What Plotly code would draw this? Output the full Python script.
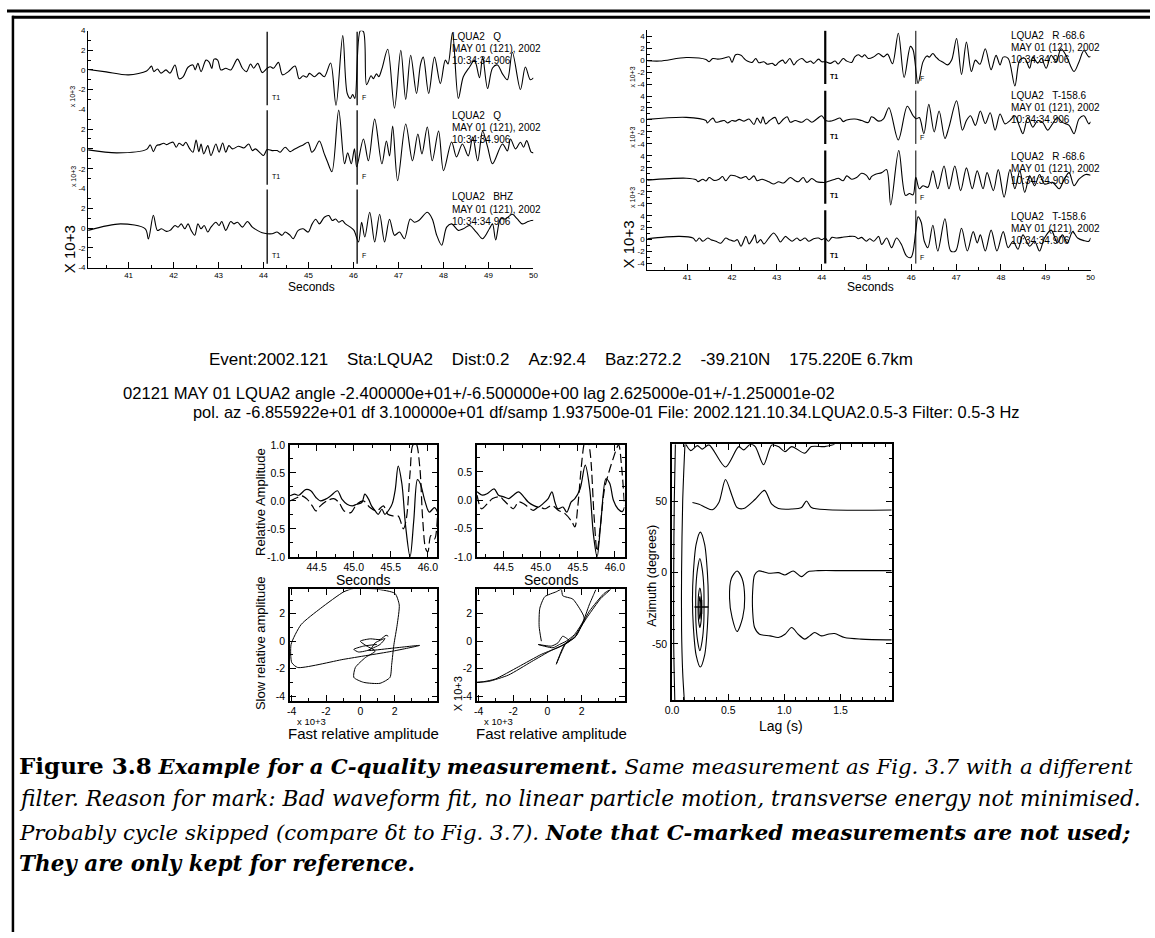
import plotly.graph_objects as go

W, H = 1155, 938
SANS = "Liberation Sans, Arial, sans-serif"
SERIF = "DejaVu Serif, Liberation Serif, serif"

# ---------------- data ----------------
# Top-left seismograms: (time s, amplitude x10^3)
Q1 = [(40.10,0.05),(40.50,-0.2),(41.00,-0.5),(41.40,-0.1),(41.48,0.27),(41.51,0.4),(41.56,-0.17),(41.64,0.1),(41.72,-0.33),(41.83,0.0),(41.92,-0.33),(42.03,0.5),(42.12,-0.9),(42.21,-0.7),(42.32,0.27),(42.43,0.5),(42.48,0.0),(42.54,0.67),(42.61,-0.17),(42.72,1.0),(42.79,0.8),(42.85,0.15),(42.90,1.1),(42.98,1.0),(43.05,0.0),(43.16,0.17),(43.27,0.0),(43.42,1.1),(43.53,0.17),(43.62,-0.17),(43.71,0.6),(43.78,0.17),(43.87,0.67),(43.97,-0.27),(44.08,0.17),(44.15,0.33),(44.22,0.17),(44.33,0.77),(44.42,-0.5),(44.55,-0.17),(44.70,0.4),(44.79,-0.9),(44.88,-0.6),(44.96,-0.73),(45.02,-0.35),(45.13,-0.7),(45.24,-0.3),(45.35,-0.7),(45.49,0.7),(45.61,-3.6),(45.76,3.5),(45.86,-2.4),(45.93,-2.9),(45.98,-2.5),(46.03,-2.9),(46.15,4.0),(46.22,3.9),(46.29,-1.5),(46.39,-0.6),(46.44,-0.9),(46.51,-0.4),(46.56,-0.7),(46.63,0.1),(46.76,2.1),(46.91,-3.9),(47.05,2.0),(47.16,-3.0),(47.27,1.5),(47.40,-2.4),(47.49,0.6),(47.55,1.3),(47.67,-2.4),(47.80,1.3),(47.93,-1.4),(48.04,1.0),(48.10,0.6),(48.20,3.8),(48.33,-2.9),(48.44,-0.7),(48.58,0.3),(48.69,1.0),(48.80,-0.8),(48.87,1.3),(48.98,-1.9),(49.09,0.2),(49.20,0.5),(49.31,-0.4),(49.42,-1.0),(49.53,1.8),(49.71,-2.0),(49.82,0.3),(49.93,-1.0),(50.00,-0.8)]
Q2 = [(40.10,-0.1),(40.74,-0.4),(41.40,-0.05),(41.48,0.4),(41.55,-0.27),(41.62,0.33),(41.70,0.43),(41.78,0.57),(41.84,0.43),(41.92,0.6),(41.99,0.67),(42.06,0.17),(42.12,0.57),(42.21,0.33),(42.27,0.67),(42.36,0.0),(42.43,-0.33),(42.50,0.9),(42.56,-0.27),(42.61,0.5),(42.67,-0.5),(42.76,0.33),(42.83,-0.67),(42.94,0.5),(43.01,-0.33),(43.09,0.6),(43.16,-0.33),(43.23,0.33),(43.31,0.0),(43.44,0.27),(43.56,0.1),(43.67,0.5),(43.75,-0.17),(43.82,0.0),(43.93,-0.43),(44.00,-0.67),(44.08,-0.07),(44.19,-0.17),(44.30,-0.17),(44.37,-0.33),(44.48,0.17),(44.59,-0.27),(44.66,-0.1),(44.77,0.17),(44.88,0.4),(44.99,0.67),(45.07,-0.33),(45.13,-0.1),(45.24,0.8),(45.35,-0.5),(45.42,-1.3),(45.52,-2.3),(45.67,3.9),(45.80,-1.5),(45.87,-0.4),(45.95,-1.5),(46.02,0.0),(46.07,-1.8),(46.22,1.0),(46.33,-1.2),(46.47,3.0),(46.63,-1.5),(46.73,0.8),(46.80,-0.7),(46.87,2.3),(46.98,-3.2),(47.16,2.5),(47.31,-1.2),(47.43,1.5),(47.52,-0.5),(47.64,2.2),(47.75,-1.2),(47.89,1.8),(48.00,-2.2),(48.18,0.7),(48.29,-0.8),(48.42,0.5),(48.55,-0.7),(48.65,1.2),(48.76,-1.2),(48.87,1.8),(48.98,0.2),(49.09,-1.5),(49.31,0.5),(49.42,-0.2),(49.49,1.0),(49.60,0.0),(49.71,0.67),(49.78,0.17),(49.85,0.83),(49.95,-0.33),(50.00,-0.4)]
BHZ = [(40.10,-0.23),(40.82,0.43),(41.37,-0.07),(41.44,-1.1),(41.55,1.3),(41.64,-0.23),(41.73,-0.07),(41.84,-0.33),(41.92,-0.23),(42.03,0.27),(42.10,0.1),(42.17,0.43),(42.25,-0.07),(42.32,0.43),(42.39,-0.23),(42.47,-0.73),(42.54,0.43),(42.61,-0.07),(42.68,0.27),(42.76,-0.4),(42.83,0.1),(42.94,0.6),(43.01,0.27),(43.07,0.67),(43.16,-0.23),(43.27,0.67),(43.34,0.43),(43.42,0.6),(43.53,0.1),(43.64,0.67),(43.75,0.1),(43.86,-0.23),(43.97,-0.47),(44.08,-0.57),(44.19,-0.57),(44.30,-0.4),(44.41,-0.73),(44.48,-0.4),(44.59,-0.73),(44.66,-1.07),(44.77,-0.23),(44.88,-0.07),(44.99,-0.4),(45.08,0.43),(45.16,0.9),(45.24,0.43),(45.35,1.1),(45.45,1.27),(45.53,0.77),(45.60,0.93),(45.67,0.6),(45.75,0.77),(45.82,0.43),(45.93,0.1),(46.01,-0.23),(46.11,-1.4),(46.18,0.6),(46.25,-0.9),(46.36,1.6),(46.47,-1.4),(46.58,1.4),(46.69,-1.4),(46.80,0.9),(46.91,-0.73),(47.02,-0.4),(47.13,-1.07),(47.26,0.93),(47.35,0.6),(47.45,0.77),(47.64,1.6),(47.75,0.93),(47.85,-0.73),(47.96,-1.73),(48.07,0.1),(48.18,0.43),(48.33,-0.23),(48.44,-0.07),(48.58,0.27),(48.73,-0.4),(48.87,-1.07),(49.02,-0.07),(49.09,0.43),(49.16,-1.2),(49.27,0.93),(49.38,0.93),(49.53,1.4),(49.64,0.93),(49.75,0.43),(49.85,0.6),(49.95,0.77),(50.00,0.8)]

# Top-right seismograms (rotated components)
R1 = [(40.11,-0.1),(40.39,-0.15),(40.98,0.43),(41.42,0.1),(41.49,-0.27),(41.57,0.27),(41.68,0.16),(41.79,0.27),(41.86,0.43),(41.94,0.54),(42.00,-0.38),(42.08,0.9),(42.20,0.8),(42.27,0.27),(42.34,-0.16),(42.45,-0.38),(42.53,0.27),(42.60,-0.43),(42.71,-0.27),(42.79,-0.7),(42.90,-0.54),(42.97,-0.9),(43.04,-0.38),(43.13,0.0),(43.19,-0.54),(43.29,0.27),(43.38,-0.8),(43.45,-0.16),(43.56,0.27),(43.67,-0.38),(43.75,-0.16),(43.82,-0.54),(43.93,0.16),(44.00,-0.27),(44.09,-0.27),(44.19,-0.54),(44.30,-0.16),(44.37,-0.65),(44.48,0.27),(44.56,-0.16),(44.67,-0.38),(44.74,0.54),(44.82,0.9),(44.90,0.54),(44.96,0.9),(45.04,0.27),(45.16,0.54),(45.27,1.1),(45.38,0.54),(45.47,1.0),(45.58,-0.6),(45.71,4.5),(45.84,-2.9),(45.98,2.3),(46.04,1.7),(46.15,-3.9),(46.26,-0.3),(46.35,0.7),(46.40,0.5),(46.48,1.1),(46.55,0.5),(46.62,0.0),(46.70,-0.3),(46.81,-0.8),(46.90,0.0),(47.01,3.6),(47.12,-2.4),(47.23,3.0),(47.34,-1.9),(47.43,0.0),(47.53,-0.7),(47.65,1.9),(47.78,-1.6),(47.89,0.8),(47.98,-0.8),(48.05,0.5),(48.16,0.3),(48.31,-4.3),(48.42,0.0),(48.53,0.3),(48.64,-1.35),(48.71,0.5),(48.82,-0.5),(48.90,0.3),(49.01,-1.35),(49.12,0.8),(49.23,-0.3),(49.34,1.9),(49.45,0.8),(49.63,-1.9),(49.74,-0.3),(49.85,1.6),(49.96,0.54),(50.00,0.6)]
T1c = [(40.11,0.1),(40.98,0.43),(41.42,-0.1),(41.45,-0.5),(41.53,0.1),(41.58,0.3),(41.64,-0.38),(41.75,-0.2),(41.83,-0.1),(41.90,-0.5),(42.00,-0.1),(42.08,-0.2),(42.16,0.1),(42.27,-0.2),(42.38,0.16),(42.49,-0.75),(42.56,0.3),(42.64,-0.54),(42.69,0.54),(42.75,-0.65),(42.84,-0.1),(42.96,0.43),(43.04,-0.65),(43.15,0.16),(43.23,0.54),(43.30,-0.38),(43.41,-0.1),(43.56,-0.38),(43.67,0.16),(43.78,-0.38),(43.89,0.16),(44.00,0.7),(44.09,-0.1),(44.19,-0.2),(44.30,0.05),(44.41,0.32),(44.48,-0.27),(44.56,0.0),(44.74,0.16),(44.89,-0.1),(45.04,-0.43),(45.11,0.54),(45.16,0.4),(45.27,-0.2),(45.38,0.2),(45.50,2.05),(45.71,-3.35),(45.91,2.3),(46.04,0.7),(46.11,0.2),(46.18,0.4),(46.28,-2.3),(46.39,2.6),(46.51,-2.0),(46.62,1.5),(46.75,-3.1),(46.84,-1.2),(47.01,3.2),(47.14,-1.7),(47.23,-0.1),(47.32,0.7),(47.43,-0.9),(47.54,1.5),(47.65,-0.6),(47.76,1.2),(47.87,-1.7),(47.98,1.0),(48.09,-0.65),(48.20,-0.1),(48.31,0.7),(48.42,-1.2),(48.49,-2.3),(48.60,0.4),(48.71,-1.2),(48.82,-0.1),(48.93,-0.4),(49.04,-1.7),(49.15,-0.65),(49.26,0.4),(49.37,-0.4),(49.52,-0.9),(49.63,-2.3),(49.74,0.16),(49.85,0.7),(49.96,-0.65),(50.00,-0.3)]
R2 = [(40.11,-0.05),(40.98,0.27),(41.20,0.0),(41.24,-0.3),(41.35,0.1),(41.42,-0.2),(41.49,0.38),(41.60,-0.1),(41.71,0.1),(41.79,0.54),(41.86,-0.16),(41.97,0.75),(42.08,0.65),(42.20,0.27),(42.31,0.54),(42.38,0.0),(42.49,0.65),(42.56,-0.16),(42.67,0.1),(42.82,-0.33),(42.93,-0.7),(43.04,-0.33),(43.15,-0.54),(43.30,0.38),(43.41,-0.16),(43.48,-0.33),(43.59,0.38),(43.67,-0.43),(43.78,0.22),(43.89,-0.33),(44.00,-0.43),(44.08,-0.43),(44.19,-0.16),(44.30,0.1),(44.37,0.27),(44.48,-0.16),(44.56,0.65),(44.67,0.1),(44.78,0.38),(44.89,1.1),(45.00,0.75),(45.07,0.0),(45.11,0.54),(45.19,0.9),(45.34,1.2),(45.45,1.7),(45.54,-4.2),(45.72,4.9),(45.87,-2.6),(45.96,-2.3),(46.04,-2.5),(46.10,0.4),(46.18,-1.5),(46.26,-1.0),(46.37,-1.25),(46.48,1.5),(46.59,-1.5),(46.73,2.3),(46.84,-1.5),(46.97,2.3),(47.10,-1.8),(47.23,2.0),(47.36,-1.5),(47.47,1.5),(47.60,-1.5),(47.69,1.2),(47.83,-1.8),(47.94,1.7),(48.07,-2.9),(48.20,1.7),(48.31,-1.5),(48.42,1.5),(48.53,-2.1),(48.64,0.65),(48.75,-1.0),(48.86,0.9),(48.97,-0.7),(49.15,-0.43),(49.30,-1.5),(49.41,0.1),(49.52,1.2),(49.63,-1.0),(49.74,0.1),(49.89,0.9),(50.00,0.75)]
T2c = [(40.11,0.16),(40.83,0.55),(41.13,0.27),(41.20,-0.27),(41.27,0.27),(41.35,-0.27),(41.46,0.27),(41.53,0.0),(41.64,-0.27),(41.75,-0.6),(41.86,0.27),(41.94,0.0),(42.05,-0.27),(42.12,0.0),(42.20,-1.1),(42.31,0.54),(42.38,-0.7),(42.45,0.0),(42.51,0.8),(42.56,-0.54),(42.64,0.0),(42.71,-0.7),(42.82,0.27),(42.93,1.1),(43.00,0.54),(43.08,-0.38),(43.19,0.54),(43.26,0.16),(43.34,-0.27),(43.45,0.27),(43.52,-0.16),(43.63,0.27),(43.71,-0.27),(43.82,0.16),(43.93,0.27),(44.00,0.0),(44.08,0.27),(44.15,-0.27),(44.23,0.38),(44.34,0.27),(44.45,0.38),(44.60,0.54),(44.74,0.54),(44.82,0.16),(44.89,0.38),(45.00,-0.27),(45.07,0.16),(45.16,-0.27),(45.27,0.54),(45.34,-0.8),(45.45,0.27),(45.56,-1.35),(45.67,0.27),(45.78,-0.8),(45.89,-2.7),(45.99,-3.0),(46.04,-2.0),(46.10,1.5),(46.15,3.8),(46.22,2.9),(46.29,-0.27),(46.37,-1.35),(46.48,2.4),(46.59,-1.9),(46.75,3.5),(46.88,-1.9),(46.99,-1.9),(47.12,1.9),(47.25,-1.9),(47.38,1.35),(47.47,-0.54),(47.54,0.8),(47.65,-1.9),(47.78,1.6),(47.91,-1.9),(48.05,1.35),(48.16,-1.35),(48.27,-0.27),(48.38,-1.6),(48.49,0.8),(48.64,-1.1),(48.75,-0.27),(48.86,-1.9),(48.97,0.27),(49.12,1.6),(49.26,-0.54),(49.37,0.8),(49.48,-0.54),(49.60,1.35),(49.71,0.27),(49.85,-0.16),(49.96,-0.27),(50.00,0.3)]

T1_PICK = 44.08
F_PICK = 46.08
F_PICK_R = 46.10

LEFT_STATIONS = ["LQUA2\u00a0\u00a0\u00a0Q", "LQUA2\u00a0\u00a0\u00a0Q", "LQUA2\u00a0\u00a0\u00a0BHZ"]
RIGHT_STATIONS = ["LQUA2\u00a0\u00a0\u00a0R -68.6", "LQUA2\u00a0\u00a0\u00a0T-158.6",
                  "LQUA2\u00a0\u00a0\u00a0R -68.6", "LQUA2\u00a0\u00a0\u00a0T-158.6"]
DATE_TXT = "MAY 01 (121), 2002"
TIME_TXT = "10:34:34.906"

# Waveform fit panels (time s, relative amplitude)
FIT_A_SOLID = [(44.14,0.09),(44.20,0.12),(44.26,0.10),(44.35,0.20),(44.42,0.18),(44.49,0.06),(44.55,0.0),(44.62,0.03),(44.69,0.09),(44.78,0.18),(44.84,0.03),(44.91,-0.06),(44.98,-0.09),(45.04,-0.06),(45.11,-0.03),(45.15,0.12),(45.20,0.03),(45.24,-0.09),(45.29,-0.18),(45.33,-0.24),(45.38,-0.15),(45.42,-0.24),(45.48,-0.15),(45.52,-0.05),(45.56,0.2),(45.60,0.62),(45.65,0.3),(45.70,-0.45),(45.76,-1.0),(45.81,-0.35),(45.86,0.38),(45.90,0.3),(45.96,0.0),(46.02,-0.2),(46.09,-0.12),(46.13,-0.2)]
FIT_A_DASH = [(44.14,0.0),(44.24,0.06),(44.30,0.09),(44.37,0.03),(44.44,-0.09),(44.49,-0.18),(44.55,-0.09),(44.64,0.0),(44.73,0.04),(44.80,-0.03),(44.87,-0.18),(44.96,-0.21),(45.04,-0.06),(45.13,0.0),(45.22,-0.12),(45.31,-0.18),(45.40,-0.09),(45.46,-0.24),(45.53,-0.27),(45.60,-0.27),(45.67,-0.5),(45.71,-0.32),(45.76,0.5),(45.80,1.0),(45.84,1.02),(45.89,0.62),(45.93,-0.32),(45.97,-0.85),(46.00,-0.91),(46.04,-0.62),(46.09,-0.68),(46.13,-0.27)]
FIT_B_SOLID = [(44.14,0.15),(44.21,0.09),(44.28,0.12),(44.37,0.2),(44.43,0.09),(44.50,0.06),(44.57,0.03),(44.63,0.09),(44.70,0.15),(44.77,0.06),(44.83,-0.03),(44.90,-0.09),(44.97,-0.12),(45.03,-0.06),(45.10,0.03),(45.15,0.15),(45.19,-0.03),(45.23,-0.15),(45.30,-0.12),(45.35,-0.21),(45.41,-0.03),(45.46,0.03),(45.53,0.2),(45.60,0.62),(45.66,0.2),(45.71,-0.6),(45.76,-1.0),(45.81,-0.4),(45.88,0.38),(45.93,0.3),(45.98,0.0),(46.04,-0.15),(46.10,-0.2),(46.13,-0.12)]
FIT_B_DASH = [(44.14,0.09),(44.20,-0.15),(44.28,-0.06),(44.35,0.03),(44.45,0.06),(44.50,0.0),(44.57,-0.09),(44.63,-0.15),(44.70,-0.03),(44.77,-0.06),(44.83,-0.12),(44.90,-0.18),(44.97,-0.12),(45.06,-0.15),(45.15,-0.09),(45.24,-0.18),(45.33,-0.24),(45.42,-0.38),(45.46,-0.47),(45.50,-0.1),(45.54,0.5),(45.58,0.97),(45.62,1.2),(45.67,0.8),(45.72,-0.3),(45.76,-0.9),(45.80,-0.5),(45.86,0.2),(45.92,0.5),(45.98,0.75),(46.05,0.98),(46.09,0.6),(46.13,-0.1)]

# Particle motion (fast, slow) x10^3
PM_BEFORE = [(0.96,-0.24),(0.19,-0.36),(-0.38,-0.60),(-0.10,-0.79),(0.58,-0.60),(0.87,-0.12),(1.44,0.19),(1.15,-0.24),(0.48,-0.67),(1.73,-0.53),(3.46,-0.31),(1.92,-0.72),(-0.96,-1.32),(-3.65,-1.92),(-4.0,-1.56),(-4.04,-0.24),(-3.46,1.20),(-2.31,2.40),(-0.96,3.60),(-0.38,3.84),(0.96,3.79),(2.02,3.48),(2.27,2.64),(2.15,1.20),(1.96,-0.24),(1.83,-1.68),(1.73,-2.64),(1.15,-3.07),(0.19,-3.0),(-0.38,-2.64),(-0.29,-1.92),(0.29,-1.20),(0.87,-0.72),(0.38,-0.36),(0.0,0.0),(0.58,0.17),(1.15,0.12),(1.50,0.43),(1.63,0.36)]
PM_AFTER = [(-0.35,0.0),(-0.48,1.08),(-0.44,2.40),(-0.15,3.24),(0.52,3.60),(0.81,3.77),(0.90,3.31),(1.48,3.07),(1.87,2.40),(2.15,1.68),(1.58,0.48),(1.10,0.0),(0.71,-0.24),(0.33,-0.48),(-0.54,-0.24),(0.23,-0.36),(0.62,-0.12),(0.90,0.36),(1.29,0.0),(1.0,-0.24),(0.52,-1.68),(1.10,-0.12),(1.58,0.24),(2.44,2.16),(3.31,3.48),(3.69,3.77),(3.12,3.12),(2.35,1.80),(1.58,0.36),(0.81,-0.36),(-0.35,-0.96),(-1.69,-1.87),(-3.04,-2.76),(-3.71,-2.95),(-4.1,-3.0),(-3.42,-2.93),(-2.27,-2.47),(-0.92,-1.49),(0.23,-0.67),(1.10,-0.17),(1.67,0.36),(2.06,1.32),(2.44,2.64),(2.73,3.48),(2.83,3.77)]

# Energy-grid contours (lag s, azimuth deg)
CONTOURS = [
    [(0.123,90),(0.167,85.6),(0.226,89.1),(0.270,86.6),(0.329,89.6),(0.476,74.1),(0.594,88.4),(0.638,86.1),(0.697,90),(0.741,88.4),(0.815,75.7),(0.888,89.6),(0.947,88.4),(1.006,84.9),(1.065,88.4),(1.182,83.8),(1.241,88.4),(1.359,88.4),(1.447,90)],
    [(0.182,49.2),(0.241,48.0),(0.300,45.7),(0.359,44.1),(0.417,49.2),(0.476,65.3),(0.535,53.8),(0.579,45.7),(0.638,45.0),(0.741,51.5),(0.823,57.7),(0.888,48.0),(0.947,45.0),(1.065,44.6),(1.153,45.7),(1.197,50.3),(1.241,45.7),(1.389,44.1),(1.956,43.9)],
    [(1.956,1.4),(1.536,1.4),(1.300,1.4),(1.212,0.7),(1.153,-2.8),(1.079,1.2),(1.006,-1.6),(0.947,0.0),(0.859,-0.4),(0.770,1.2),(0.735,-1.6),(0.718,-13.1),(0.718,-27.0),(0.735,-38.5),(0.779,-43.2),(0.873,-44.3),(0.947,-45.5),(1.006,-43.2),(1.065,-38.5),(1.123,-43.2),(1.182,-46.6),(1.226,-44.3),(1.271,-42.0),(1.330,-44.3),(1.389,-43.2),(1.447,-42.7),(1.536,-45.5),(1.683,-46.6),(1.956,-47.1)],
    [(0.579,1.2),(0.623,-3.9),(0.647,-17.8),(0.629,-31.6),(0.579,-41.3),(0.535,-31.6),(0.512,-17.8),(0.529,-3.9),(0.579,1.2)],
    [(0.252,28.4),(0.29,20),(0.315,0),(0.323,-19),(0.315,-38),(0.29,-58),(0.252,-66.2),(0.215,-58),(0.19,-38),(0.182,-19),(0.19,0),(0.215,20),(0.252,28.4)],
    [(0.248,9.9),(0.268,3),(0.283,-10),(0.285,-22),(0.283,-35),(0.268,-48),(0.248,-54.7),(0.228,-48),(0.213,-35),(0.211,-22),(0.213,-10),(0.228,3),(0.248,9.9)],
    [(0.248,-10.8),(0.259,-15),(0.264,-24.7),(0.259,-34),(0.248,-38.5),(0.237,-34),(0.232,-24.7),(0.237,-15),(0.248,-10.8)],
    [(0.248,-16.7),(0.254,-20),(0.256,-24.7),(0.254,-29),(0.248,-32.7),(0.242,-29),(0.240,-24.7),(0.242,-20),(0.248,-16.7)],
    [(0.115,90),(0.095,50),(0.085,0),(0.085,-40),(0.095,-70),(0.11,-90)],
    [(0.03,90),(0.02,50),(0.015,0),(0.015,-50),(0.025,-90)],
]
BEST = (0.2625, -24.0)

EVENT_TXT = ("Event:2002.121\u00a0\u00a0\u00a0\u00a0Sta:LQUA2\u00a0\u00a0\u00a0\u00a0Dist:0.2\u00a0\u00a0\u00a0\u00a0Az:92.4"
             "\u00a0\u00a0\u00a0\u00a0Baz:272.2\u00a0\u00a0\u00a0\u00a0-39.210N\u00a0\u00a0\u00a0\u00a0175.220E 6.7km")
INFO1 = "02121 MAY 01 LQUA2 angle -2.400000e+01+/-6.500000e+00 lag 2.625000e-01+/-1.250001e-02"
INFO2 = "pol. az -6.855922e+01 df 3.100000e+01 df/samp 1.937500e-01 File: 2002.121.10.34.LQUA2.0.5-3 Filter: 0.5-3 Hz"
CAPTION = [
    "<b><span style='font-size:23px'>Figure 3.8</span></b> <b><i>Example for a C-quality measurement.</i></b> <i>Same measurement as Fig. 3.7 with a different</i>",
    "<i>filter. Reason for mark: Bad waveform fit, no linear particle motion, transverse energy not minimised.</i>",
    "<i>Probably cycle skipped (compare \u03b4t to Fig. 3.7).</i> <b><i>Note that C-marked measurements are not used;</i></b>",
    "<b><i>They are only kept for reference.</i></b>",
]
CAP_SIZES = [21.3, 21.7, 21.3, 21.5]
CAP_Y = [769, 803, 837, 869]

# ---------------- figure ----------------
fig = go.Figure()


def dx(a, b):
    return [a / W, b / W]


def dy(top, bottom):
    return [1 - bottom / H, 1 - top / H]


def unzip(pairs):
    return [p[0] for p in pairs], [p[1] for p in pairs]


def line_trace(pairs, ax, width=1.0, dash=None, shape="spline", smoothing=0.9):
    x, y = unzip(pairs)
    fig.add_trace(go.Scatter(x=x, y=y, mode="lines", xaxis="x" + ax, yaxis="y" + ax,
                             line=dict(color="black", width=width, dash=dash, shape=shape, smoothing=smoothing),
                             hoverinfo="skip", showlegend=False))


def ann(text, x, y, size, family=SANS, xanchor="left", yanchor="middle", angle=0):
    fig.add_annotation(text=text, x=x / W, y=1 - y / H, xref="paper", yref="paper", showarrow=False,
                       font=dict(size=size, family=family, color="black"), xanchor=xanchor,
                       yanchor=yanchor, textangle=angle, borderpad=0)


layout = {}
tick_small = dict(size=8, family=SANS, color="black")
tick_mid = dict(size=10.5, family=SANS, color="black")


def frange(a, b, s):
    out, v = [], a
    while v <= b + 1e-9:
        out.append(round(v, 4))
        v += s
    return out


# top-left: 3 rows
LX = dx(82, 532)
L_ROWS = [(25, 104.5), (104.5, 185), (185, 265)]
for i, (top, bot) in enumerate(L_ROWS):
    n = str(i + 1)
    last = i == len(L_ROWS) - 1
    top_lbl = "4" if i == 0 else ""
    layout["xaxis" + n] = dict(domain=LX, range=[40.1, 50.0], anchor="y" + n, visible=last,
                               showgrid=False, zeroline=False, showline=True, linecolor="black", linewidth=1,
                               ticks="inside", ticklen=6, tickcolor="black", tickvals=list(range(41, 51)),
                               tickfont=tick_small, ticklabelstandoff=0,
                               minor=dict(tickvals=frange(40.5, 49.5, 1.0), ticks="inside", ticklen=3, tickcolor="black"))
    layout["yaxis" + n] = dict(domain=dy(top, bot), range=[-4, 4], anchor="x" + n, showgrid=False, zeroline=False,
                               showline=True, linecolor="black", linewidth=1, ticks="inside", ticklen=5,
                               tickcolor="black", tickvals=[-4, -2, 0, 2, 4], ticktext=["-4", "-2", "0", "2", top_lbl],
                               tickfont=tick_small,
                               minor=dict(tickvals=[-3, -1, 1, 3], ticks="inside", ticklen=3, tickcolor="black"))

# top-right: 4 rows
RX = dx(647, 1095)
rtop, rbot = 24.5, 267.0
rh = (rbot - rtop) / 4
for i in range(4):
    n = str(i + 4)
    last = i == 3
    top = rtop + i * rh
    layout["xaxis" + n] = dict(domain=RX, range=[40.11, 50.0], anchor="y" + n, visible=last,
                               showgrid=False, zeroline=False, showline=True, linecolor="black", linewidth=1,
                               ticks="inside", ticklen=6, tickcolor="black", tickvals=list(range(41, 51)),
                               tickfont=tick_small, ticklabelstandoff=0,
                               minor=dict(tickvals=frange(40.5, 49.5, 1.0), ticks="inside", ticklen=3, tickcolor="black"))
    layout["yaxis" + n] = dict(domain=dy(top, top + rh), range=[-5, 5], anchor="x" + n, showgrid=False,
                               zeroline=False, showline=True, linecolor="black", linewidth=1, ticks="inside",
                               ticklen=5, tickcolor="black", tickvals=[-4, -2, 0, 2, 4],
                               ticktext=["-4", "-2", "0", "2", "4"], tickfont=tick_small,
                               minor=dict(tickvals=[-5, -3, -1, 1, 3, 5], ticks="inside", ticklen=3, tickcolor="black"))


def box_axes(n, xd, yd, xr, yr, xt, xtt, yt, ytt, xminor, yminor):
    layout["xaxis" + n] = dict(domain=xd, range=xr, anchor="y" + n, showgrid=False, zeroline=False, showline=True,
                               mirror="allticks", linecolor="black", linewidth=1.6, ticks="inside", ticklen=6,
                               tickcolor="black", tickvals=xt, ticktext=xtt, tickfont=tick_mid, ticklabelstandoff=0,
                               minor=dict(tickvals=xminor, ticks="inside", ticklen=3, tickcolor="black"))
    layout["yaxis" + n] = dict(domain=yd, range=yr, anchor="x" + n, showgrid=False, zeroline=False, showline=True,
                               mirror="allticks", linecolor="black", linewidth=1.6, ticks="inside", ticklen=6,
                               tickcolor="black", tickvals=yt, ticktext=ytt, tickfont=tick_mid, ticklabelstandoff=1,
                               minor=dict(tickvals=yminor, ticks="inside", ticklen=3, tickcolor="black"))


sec_t = [44.5, 45.0, 45.5, 46.0]
sec_tt = ["44.5", "45.0", "45.5", "46.0"]
sec_minor = frange(44.25, 46.0, 0.25)
amp_minor = frange(-0.75, 0.75, 0.25)
box_axes("8", dx(286, 435), dy(444.5, 558), [44.14, 46.13], [-1.0, 1.0], sec_t, sec_tt,
         [-1.0, -0.5, 0.0, 0.5, 1.0], ["-1.0", "-0.5", "0.0", "0.5", "1.0"], sec_minor, amp_minor)
box_axes("9", dx(475, 624), dy(444.5, 558), [44.14, 46.13], [-1.0, 0.98], sec_t, sec_tt,
         [-1.0, -0.5, 0.0, 0.5], ["-1.0", "-0.5", "0.0", "0.5"], sec_minor, amp_minor)
pm_xt, pm_xtt = [-4, -2, 0, 2], ["-4", "-2", "0", "2"]
pm_yt, pm_ytt = [-4, -2, 0, 2], ["-4", "-2", "0", "2"]
box_axes("10", dx(286, 435), dy(591, 704), [-4.1, 4.5], [-4.36, 3.77], pm_xt, pm_xtt, pm_yt, pm_ytt,
         [-3, -1, 1, 3, 4], [-3, -1, 1, 3])
box_axes("11", dx(475, 624), dy(591, 704), [-4.1, 4.5], [-4.36, 3.77], pm_xt, pm_xtt, pm_yt, pm_ytt,
         [-3, -1, 1, 3, 4], [-3, -1, 1, 3])
box_axes("12", dx(672, 894), dy(444, 703), [0.0, 1.956], [-89.3, 90], [0.0, 0.5, 1.0, 1.5],
         ["0.0", "0.5", "1.0", "1.5"], [-50, 0, 50], ["-50", "0", "50"],
         frange(0.1, 1.9, 0.1), frange(-80, 80, 10))

# traces
for pairs, ax in [(Q1, "1"), (Q2, "2"), (BHZ, "3"), (R1, "4"), (T1c, "5"), (R2, "6"), (T2c, "7")]:
    line_trace(pairs, ax, width=1.1)
line_trace(FIT_A_SOLID, "8", width=1.2)
line_trace(FIT_A_DASH, "8", width=1.2, dash="9px,4px")
line_trace(FIT_B_SOLID, "9", width=1.2)
line_trace(FIT_B_DASH, "9", width=1.2, dash="9px,4px")
line_trace(PM_BEFORE, "10", width=1.0, smoothing=0.6)
line_trace(PM_AFTER, "11", width=1.0, smoothing=0.6)
for c in CONTOURS:
    line_trace(c, "12", width=1.1, smoothing=0.8)
fig.add_trace(go.Scatter(x=[BEST[0]], y=[BEST[1]], mode="markers", xaxis="x12", yaxis="y12",
                         marker=dict(symbol="cross-thin-open", size=10, color="black",
                                     line=dict(color="black", width=1.5)),
                         hoverinfo="skip", showlegend=False))

# pick lines and labels
shapes = []
for i in range(3):
    n = str(i + 1)
    shapes.append(dict(type="line", xref="x" + n, yref="y" + n, x0=T1_PICK, x1=T1_PICK, y0=-3.6, y1=3.9,
                       line=dict(color="black", width=1.3)))
    shapes.append(dict(type="line", xref="x" + n, yref="y" + n, x0=F_PICK, x1=F_PICK, y0=-3.6, y1=3.9,
                       line=dict(color="black", width=1.3)))
    fig.add_annotation(text="T1", x=T1_PICK + 0.06, y=-2.8, xref="x" + n, yref="y" + n, showarrow=False,
                       xanchor="left", font=dict(size=7, family=SANS, color="black"))
    fig.add_annotation(text="F", x=F_PICK + 0.06, y=-2.8, xref="x" + n, yref="y" + n, showarrow=False,
                       xanchor="left", font=dict(size=7, family=SANS, color="black"))
for i in range(4):
    n = str(i + 4)
    shapes.append(dict(type="line", xref="x" + n, yref="y" + n, x0=T1_PICK, x1=T1_PICK, y0=-4.0, y1=4.9,
                       line=dict(color="black", width=2.2)))
    shapes.append(dict(type="line", xref="x" + n, yref="y" + n, x0=F_PICK_R, x1=F_PICK_R, y0=-4.0, y1=4.9,
                       line=dict(color="black", width=1.0)))
    fig.add_annotation(text="<b>T1</b>", x=T1_PICK + 0.06, y=-2.7, xref="x" + n, yref="y" + n, showarrow=False,
                       xanchor="left", font=dict(size=7, family=SANS, color="black"))
    fig.add_annotation(text="F", x=F_PICK_R + 0.06, y=-3.0, xref="x" + n, yref="y" + n, showarrow=False,
                       xanchor="left", font=dict(size=7, family=SANS, color="black"))

# frame
shapes.append(dict(type="line", xref="paper", yref="paper", x0=0, x1=1, y0=1 - 5 / H, y1=1 - 5 / H,
                   line=dict(color="black", width=3)))
shapes.append(dict(type="line", xref="paper", yref="paper", x0=5 / W, x1=1, y0=1 - 11.5 / H, y1=1 - 11.5 / H,
                   line=dict(color="black", width=3)))
shapes.append(dict(type="line", xref="paper", yref="paper", x0=6 / W, x1=6 / W, y0=0, y1=1 - 10 / H,
                   line=dict(color="black", width=2.5)))

# station texts
for i, y0 in enumerate([30.7, 110.7, 193.3]):
    ann(LEFT_STATIONS[i], 449, y0, 10)
    ann(DATE_TXT, 449, y0 + 12.4, 10)
    ann(TIME_TXT, 449, y0 + 24.6, 10)
for i, y0 in enumerate([30.0, 90.7, 152.7, 213.3]):
    ann(RIGHT_STATIONS[i], 1014, y0, 10)
    ann(DATE_TXT, 1014, y0 + 12.4, 10)
    ann(TIME_TXT, 1014, y0 + 24.2, 10)

# scale labels
ann("x 10+3", 67, 92, 7, xanchor="center", angle=-90)
ann("x 10+3", 67, 173, 7, xanchor="center", angle=-90)
ann("X 10+3", 64, 246, 15, xanchor="center", angle=-90)
ann("x 10+3", 632, 72, 7, xanchor="center", angle=-90)
ann("x 10+3", 632, 133, 7, xanchor="center", angle=-90)
ann("x 10+3", 632, 194, 7, xanchor="center", angle=-90)
ann("X 10+3", 628, 241, 15, xanchor="center", angle=-90)
ann("Seconds", 308, 285, 12, xanchor="center")
ann("Seconds", 873, 285, 12, xanchor="center")

# info text
ann(EVENT_TXT, 560, 358, 17, xanchor="center")
ann(INFO1, 116, 393, 16.6)
ann(INFO2, 187, 411, 16.4)

# bottom panel labels
ann("Relative Amplitude", 256, 502, 13, xanchor="center", angle=-90)
ann("Slow relative amplitude", 256, 645, 13, xanchor="center", angle=-90)
ann("Seconds", 360, 581, 14, xanchor="center")
ann("Seconds", 550, 581, 14, xanchor="center")
ann("x 10+3", 308, 725, 9.5, xanchor="center")
ann("x 10+3", 497, 725, 9.5, xanchor="center")
ann("Fast relative amplitude", 360, 737, 15, xanchor="center")
ann("Fast relative amplitude", 550, 737, 15, xanchor="center")
ann("X 10+3", 456, 697, 11, xanchor="center", angle=-90)
ann("Azimuth (degrees)", 651, 577, 12.5, xanchor="center", angle=-90)
ann("Lag (s)", 782, 729, 14, xanchor="center")

# caption
for line, yy, sz in zip(CAPTION, CAP_Y, CAP_SIZES):
    ann(line, 11, yy, sz, family=SERIF)

layout.update(dict(width=W, height=H, margin=dict(l=0, r=0, t=0, b=0), paper_bgcolor="white",
                   plot_bgcolor="rgba(0,0,0,0)", showlegend=False, shapes=shapes,
                   font=dict(family=SANS, color="black")))
fig.update_layout(**layout)
fig.write_html("out.html", config={"displayModeBar": False},
               post_script="document.body.style.margin='0px';document.body.style.padding='0px';"
                           "document.documentElement.style.overflow='hidden';document.body.style.overflow='hidden';")
